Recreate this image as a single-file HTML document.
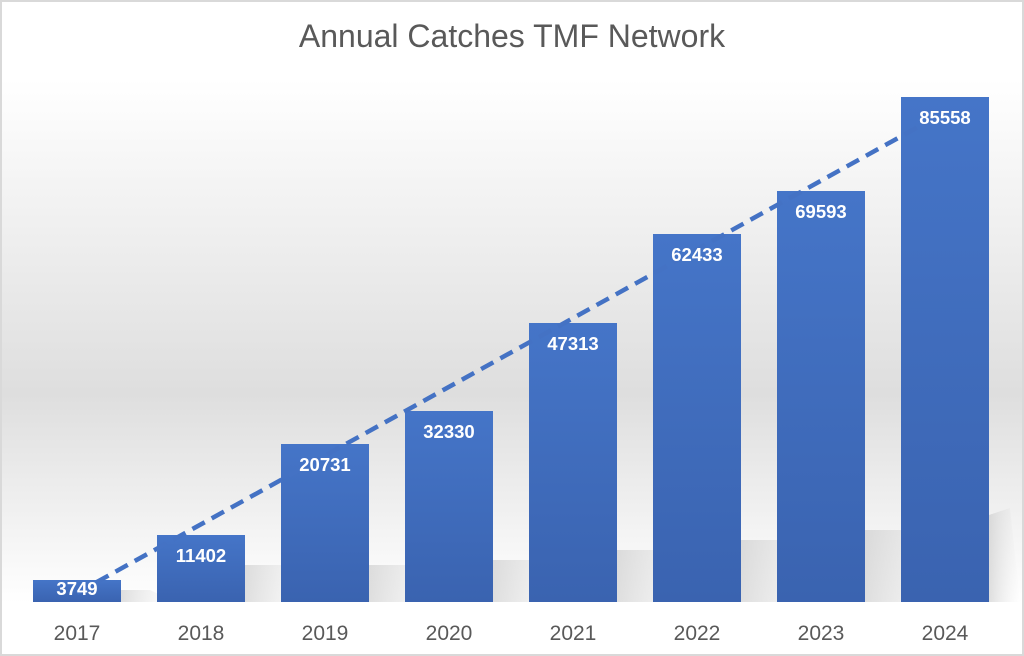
<!DOCTYPE html>
<html><head><style>
html,body{margin:0;padding:0;background:#fff}
</style></head><body>
<svg width="1024" height="656" xmlns="http://www.w3.org/2000/svg" style="display:block">
<defs>
<linearGradient id="bg" x1="0" y1="0" x2="0" y2="1">
<stop offset="0" stop-color="#ffffff"/>
<stop offset="0.12" stop-color="#ffffff"/>
<stop offset="0.6" stop-color="#dedede"/>
<stop offset="0.92" stop-color="#ffffff"/>
<stop offset="1" stop-color="#ffffff"/>
</linearGradient>
<linearGradient id="bar" x1="0" y1="0" x2="0" y2="1">
<stop offset="0" stop-color="#4575c8"/>
<stop offset="1" stop-color="#3a63b0"/>
</linearGradient>
<linearGradient id="sh" x1="0" y1="0" x2="1" y2="0">
<stop offset="0" stop-color="#c4c4c4" stop-opacity="0.55"/>
<stop offset="1" stop-color="#e0e0e0" stop-opacity="0"/>
</linearGradient>
</defs>
<rect x="0" y="0" width="1024" height="656" fill="url(#bg)"/>
<rect x="1" y="1" width="1022" height="654" fill="none" stroke="#d9d9d9" stroke-width="2"/>
<text x="512" y="47" text-anchor="middle" font-family="Liberation Sans, sans-serif" font-size="32" fill="#595959">Annual Catches TMF Network</text>
<g fill="url(#sh)">
<polygon points="121,602 121,590 150,590 175,602"/>
<polygon points="245,602 245,565 290,565 320,602"/>
<polygon points="369,602 369,565 420,565 460,602"/>
<polygon points="493,602 493,560 550,560 590,602"/>
<polygon points="617,602 617,550 680,550 720,602"/>
<polygon points="741,602 741,540 810,540 850,602"/>
<polygon points="865,602 865,530 935,530 975,602"/>
<polygon points="989,602 989,515 1010,508 1020,602"/>
</g>
<g fill="url(#bar)">
<rect x="33" y="580" width="88" height="22"/>
<rect x="157" y="535" width="88" height="67"/>
<rect x="281" y="444" width="88" height="158"/>
<rect x="405" y="411" width="88" height="191"/>
<rect x="529" y="323" width="88" height="279"/>
<rect x="653" y="234" width="88" height="368"/>
<rect x="777" y="191" width="88" height="411"/>
<rect x="901" y="97" width="88" height="505"/>
</g>
<line x1="77" y1="593" x2="945" y2="112" stroke="#4472c4" stroke-width="4.5" stroke-dasharray="14,8"/>
<g font-family="Liberation Sans, sans-serif" font-size="18.5" font-weight="bold" fill="#fff" text-anchor="middle">
<text x="77" y="595">3749</text>
<text x="201" y="562">11402</text>
<text x="325" y="471">20731</text>
<text x="449" y="438">32330</text>
<text x="573" y="350">47313</text>
<text x="697" y="261">62433</text>
<text x="821" y="218">69593</text>
<text x="945" y="124">85558</text>
</g>
<g font-family="Liberation Sans, sans-serif" font-size="21" fill="#595959" text-anchor="middle">
<text x="77" y="640">2017</text>
<text x="201" y="640">2018</text>
<text x="325" y="640">2019</text>
<text x="449" y="640">2020</text>
<text x="573" y="640">2021</text>
<text x="697" y="640">2022</text>
<text x="821" y="640">2023</text>
<text x="945" y="640">2024</text>
</g>
</svg>
</body></html>
